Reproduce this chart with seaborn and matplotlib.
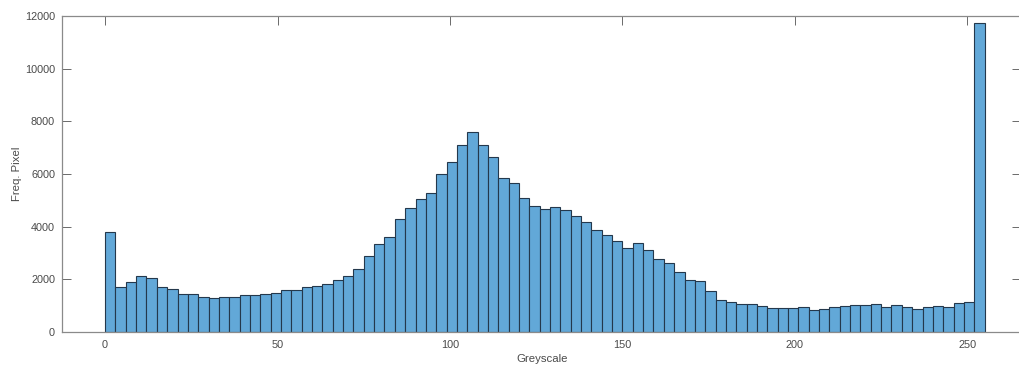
import numpy as np
import pandas as pd
import matplotlib
matplotlib.use("Agg")
import matplotlib.pyplot as plt
import seaborn as sns

# Histogram of grey levels: bin width 3, bins starting at 0, 3, ..., 252
bin_width = 3
bin_starts = list(range(0, 255, bin_width))
pixel_counts = [
    3800, 1700, 1900, 2110, 2050, 1700, 1620, 1460, 1460, 1340,
    1300, 1340, 1340, 1390, 1420, 1460, 1490, 1600, 1600, 1700,
    1750, 1820, 1975, 2110, 2400, 2900, 3355, 3620, 4300, 4720,
    5050, 5280, 6010, 6440, 7100, 7610, 7100, 6650, 5860, 5660,
    5090, 4800, 4680, 4750, 4650, 4390, 4165, 3890, 3700, 3445,
    3190, 3390, 3100, 2770, 2630, 2280, 1990, 1925, 1560, 1215,
    1130, 1050, 1050, 980, 925, 925, 900, 937, 850, 875,
    937, 987, 1025, 1013, 1063, 937, 1013, 937, 875, 950,
    987, 937, 1090, 1140, 11740,
]
x_ticks = [0, 50, 100, 150, 200, 250]
y_ticks = [0, 2000, 4000, 6000, 8000, 10000, 12000]

df = pd.DataFrame({
    "grey": np.array(bin_starts) + bin_width / 2,
    "count": pixel_counts,
})

sns.set_theme(style="white")
plt.rcParams["font.family"] = ["Liberation Sans", "DejaVu Sans"]

W, H = 1020, 365
fig = plt.figure(figsize=(W / 100, H / 100), dpi=100)
ax = fig.add_axes([62 / W, 1 - 332 / H, (1021.5 - 62) / W, (332 - 16) / H])

sns.histplot(
    data=df, x="grey", weights="count",
    binwidth=bin_width, binrange=(0, 255), ax=ax,
    stat="count", color="#62a8d8", alpha=1.0,
    edgecolor="#24384c", linewidth=0.8,
)

ax.set_xlim(-12.5, 265.7)
ax.set_ylim(0, 12000)
ax.set_xticks(x_ticks)
ax.set_yticks(y_ticks)

axis_grey = "#8a8a8a"
label_grey = "#4a4a4a"
for side, sp in ax.spines.items():
    sp.set_visible(True)
    sp.set_color(axis_grey)
    sp.set_linewidth(0.9)
ax.tick_params(axis="both", which="both", direction="in", length=6.6,
               width=0.7, color="#6a6a6a", labelsize=7.8,
               labelcolor=label_grey, top=True, right=True,
               bottom=True, left=True)
ax.tick_params(axis="x", pad=6)
ax.tick_params(axis="y", pad=5)

ax.set_xlabel("Greyscale", fontsize=8.2, color=label_grey, labelpad=3)
ax.set_ylabel("Freq. Pixel", fontsize=8.2, color=label_grey, labelpad=2)
ax.grid(False)

fig.savefig("out.png", dpi=100)
